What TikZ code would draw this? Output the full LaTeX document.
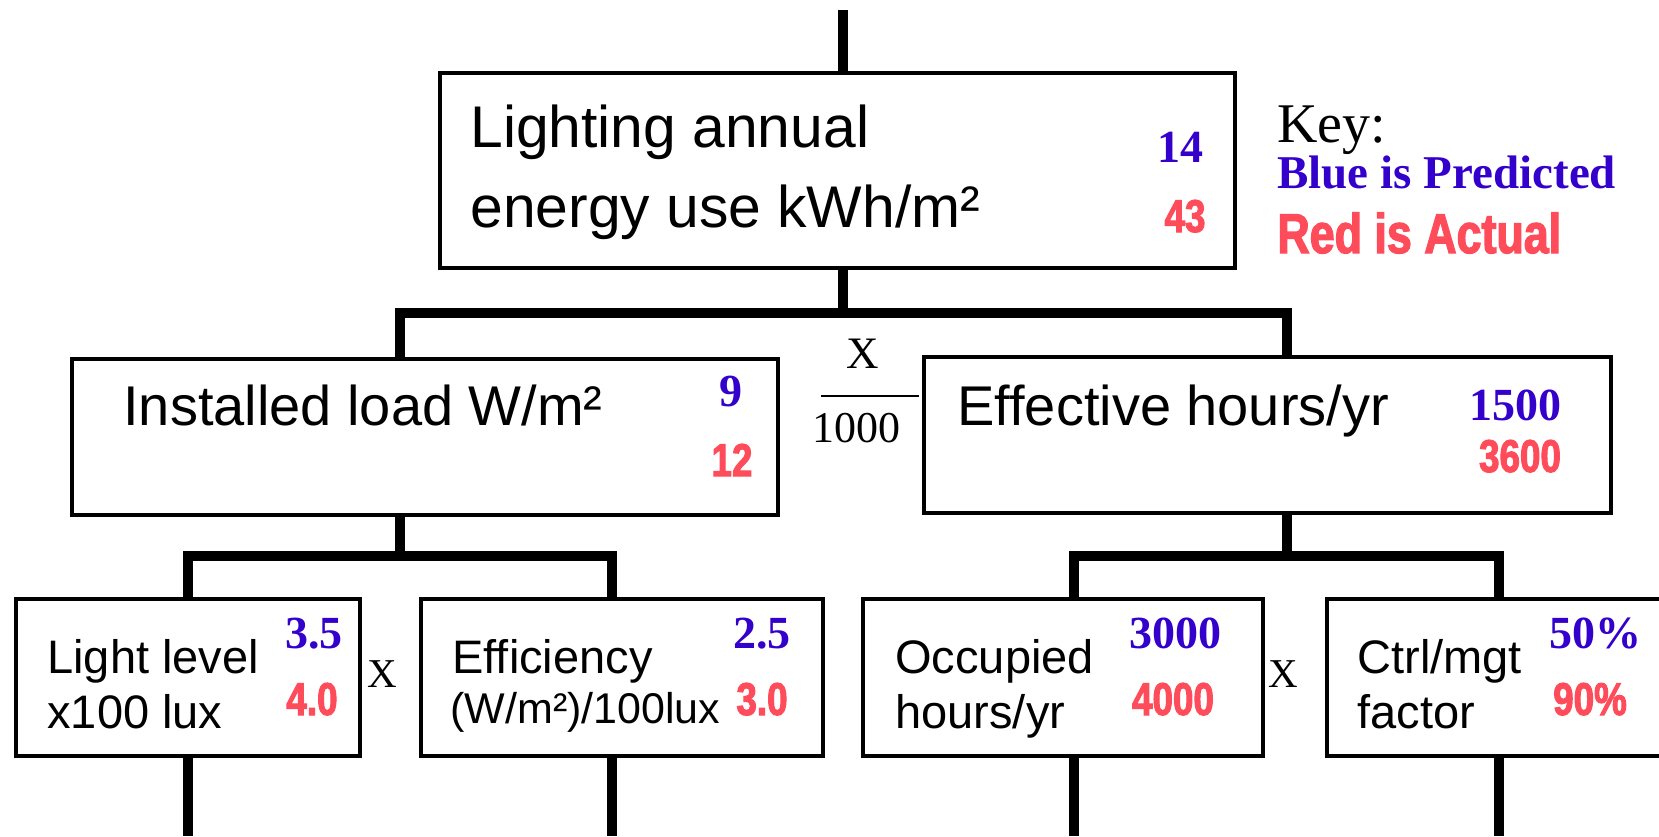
\documentclass[tikz,border=0pt]{standalone}
\usepackage{fontspec}
\setmainfont{Liberation Sans}
\newfontfamily\timesfont{Liberation Serif}
\newfontfamily\narrowfont[FakeStretch=0.8, FakeBold=2.2]{Liberation Sans Bold}
\usepackage{tikz}
\usetikzlibrary{fit}
\definecolor{predblue}{RGB}{51,0,204}
\definecolor{actred}{RGB}{255,76,90}

\begin{document}
\begin{tikzpicture}[x=0.5pt, y=-0.5pt,
  box/.style={draw, line width=2.4pt, inner sep=0pt, fit={#1}},
  link/.style={line width=4.8pt, line join=miter},
  biglab/.style={anchor=base west, inner sep=0pt, font=\fontsize{29.4}{35}\selectfont},
  midlab/.style={anchor=base west, inner sep=0pt, font=\fontsize{28}{34}\selectfont},
  smalllab/.style={anchor=base west, inner sep=0pt, font=\fontsize{23.5}{28}\selectfont},
  pred/.style={anchor=base, inner sep=0pt, text=predblue, font=\timesfont\bfseries\fontsize{23}{28}\selectfont},
  act/.style={anchor=base, inner sep=0pt, text=actred, font=\narrowfont\fontsize{23}{28}\selectfont},
  times/.style={anchor=base, inner sep=0pt, font=\timesfont\fontsize{#1}{#1}\selectfont}]
  \useasboundingbox (0,0) rectangle (1659,836);
  \clip (0,0) rectangle (1659,836);
  \fill[white] (0,0) rectangle (1659,836);

  \node[box={(440,73) (1235,268)}]   (energy) {};
  \node[box={(72,359) (778,515)}]    (load)   {};
  \node[box={(924,357) (1611,513)}]  (hours)  {};
  \node[box={(16,599) (360,756)}]    (level)  {};
  \node[box={(421,599) (823,756)}]   (effic)  {};
  \node[box={(863,599) (1263,756)}]  (occup)  {};
  \node[box={(1327,599) (1690,756)}] (ctrl)   {};

  \node[biglab]   at (470,147)  (energy1) {Lighting annual};
  \node[biglab]   at (470,227)  (energy2) {energy use kWh/m²};
  \node[pred]     at (1180,162) (energyP) {14};
  \node[act]      at (1185,232) (energyA) {43};

  \node[midlab]   at (123,425)  (load1)   {Installed load W/m²};
  \node[pred]     at (731,406)  (loadP)   {9};
  \node[act]      at (732,476)  (loadA)   {12};

  \node[midlab]   at (957,425)  (hours1)  {Effective hours/yr};
  \node[pred]     at (1515,420) (hoursP)  {1500};
  \node[act]      at (1520,472) (hoursA)  {3600};

  \node[smalllab] at (47,673)   (level1)  {Light level};
  \node[smalllab] at (47,728)   (level2)  {x100 lux};
  \node[pred]     at (314,648)  (levelP)  {3.5};
  \node[act]      at (312,715)  (levelA)  {4.0};

  \node[smalllab] at (452,673)  (effic1)  {Efficiency};
  \node[smalllab, font=\fontsize{21.5}{25}\selectfont] at (450,723) (effic2) {(W/m²)/100lux};
  \node[pred]     at (762,648)  (efficP)  {2.5};
  \node[act]      at (762,715)  (efficA)  {3.0};

  \node[smalllab] at (895,673)  (occup1)  {Occupied};
  \node[smalllab] at (895,728)  (occup2)  {hours/yr};
  \node[pred]     at (1175,648) (occupP)  {3000};
  \node[act]      at (1173,715) (occupA)  {4000};

  \node[smalllab] at (1357,673) (ctrl1)   {Ctrl/mgt};
  \node[smalllab] at (1357,728) (ctrl2)   {factor};
  \node[pred]     at (1595,648) (ctrlP)   {50\%};
  \node[act]      at (1590,715) (ctrlA)   {90\%};

  \node[times=28, anchor=base west] at (1277,142) (key) {Key:};
  \node[anchor=base west, inner sep=0pt, text=predblue, font=\timesfont\bfseries\fontsize{23.5}{28}\selectfont] at (1277,188) (keyP) {Blue is Predicted};
  \node[anchor=base west, inner sep=0pt, text=actred, font=\narrowfont\fontsize{28}{34}\selectfont] at (1277,253) (keyA) {Red is Actual};

  \node[times=22.5] at (863,368)  (mult0) {X};
  \node[times=22]   at (856,442)  (per0)  {1000};
  \node[times=20.5] at (382,687)  (mult1) {X};
  \node[times=20.5] at (1283,687) (mult2) {X};

  \coordinate (top) at (843,10);
  \coordinate (j0)  at (843,313);
  \coordinate (jl)  at (400,556);
  \coordinate (jr)  at (1287,556);
  \coordinate (b1)  at (188,836);
  \coordinate (b2)  at (612,836);
  \coordinate (b3)  at (1074,836);
  \coordinate (b4)  at (1499,836);
  \coordinate (fl)  at (821,396);
  \coordinate (fr)  at (919,396);

  \draw[line width=1pt] (fl) -- (fr);

  \draw[link] (top) -- (energy.north -| top);
  \draw[link] (energy.south -| j0) -- (j0);
  \draw[link] (load.north -| jl) |- (j0) -| (hours.north -| jr);
  \draw[link] (load.south -| jl) -- (jl);
  \draw[link] (hours.south -| jr) -- (jr);
  \draw[link] (level.north -| b1) |- (jl) -| (effic.north -| b2);
  \draw[link] (occup.north -| b3) |- (jr) -| (ctrl.north -| b4);
  \draw[link] (level.south -| b1) -- (b1);
  \draw[link] (effic.south -| b2) -- (b2);
  \draw[link] (occup.south -| b3) -- (b3);
  \draw[link] (ctrl.south -| b4) -- (b4);
\end{tikzpicture}
\end{document}
